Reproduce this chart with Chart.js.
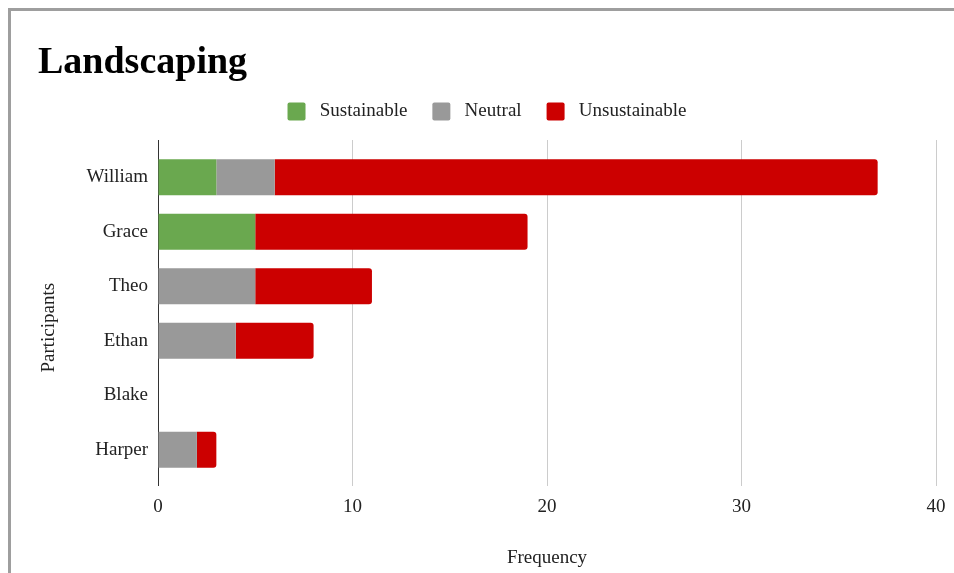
<!DOCTYPE html>
<html>
<head>
<meta charset="utf-8">
<script src="https://cdn.jsdelivr.net/npm/chart.js@4"></script>
<style>
  html, body { margin: 0; padding: 0; background: #fff; overflow: hidden; }
  #frame { position: absolute; left: 8px; top: 8px; width: 2000px; height: 2000px; border: 3px solid #9e9e9e; box-sizing: border-box; }
  #chart { position: absolute; left: 0; top: 0; }
</style>
</head>
<body>
<div id="frame"></div>
<canvas id="chart" width="954" height="573"></canvas>
<script>
const participants = ['William', 'Grace', 'Theo', 'Ethan', 'Blake', 'Harper'];
const sustainable = [3, 5, 0, 0, 0, 0];
const neutral = [3, 0, 5, 4, 0, 2];
const unsustainable = [31, 14, 6, 4, 0, 1];
const xTicks = [0, 10, 20, 30, 40];

const serif = '"Liberation Serif", "Times New Roman", serif';

// gridlines in the original stick out above the plot a bit
const gridTop = {
    id: 'gridTop',
    beforeDatasetsDraw(chart) {
        const { ctx, chartArea, scales } = chart;
        ctx.save();
        ctx.lineWidth = 1;
        xTicks.forEach(v => {
            const x = Math.round(scales.x.getPixelForValue(v) - 0.5) + 0.5;
            ctx.strokeStyle = v === 0 ? '#333333' : '#cccccc';
            ctx.beginPath();
            ctx.moveTo(x, chartArea.top - 10);
            ctx.lineTo(x, chartArea.top);
            ctx.stroke();
        });
        ctx.restore();
    }
};

new Chart(document.getElementById('chart'), {
    type: 'bar',
    data: {
        labels: participants,
        datasets: [
            { label: 'Sustainable', data: sustainable, backgroundColor: '#6aa84f' },
            { label: 'Neutral', data: neutral, backgroundColor: '#999999' },
            { label: 'Unsustainable', data: unsustainable, backgroundColor: '#cc0000',
              borderRadius: 3, borderSkipped: 'start' }
        ]
    },
    options: {
        indexAxis: 'y',
        responsive: false,
        animation: false,
        barPercentage: 0.66,
        categoryPercentage: 1,
        layout: { padding: { left: 38, right: 18, top: 0, bottom: 0 } },
        plugins: {
            title: {
                display: true,
                text: 'Landscaping',
                align: 'start',
                color: '#000',
                font: { family: serif, size: 38, weight: 'bold', lineHeight: 1 },
                padding: { top: 44, bottom: -5 }
            },
            // empty spacer between legend and plot
            subtitle: {
                display: true,
                text: '',
                weight: 500,
                font: { size: 10, lineHeight: 1 },
                padding: { top: 0, bottom: 9 }
            },
            legend: {
                position: 'top',
                labels: {
                    color: '#222',
                    font: { family: serif, size: 19 },
                    boxWidth: 18,
                    boxHeight: 18,
                    useBorderRadius: true,
                    borderRadius: 2,
                    padding: 25,
                    generateLabels(chart) {
                        return Chart.defaults.plugins.legend.labels.generateLabels(chart)
                            .map(l => ({ ...l, text: ' ' + l.text }));
                    }
                }
            },
            tooltip: { enabled: false }
        },
        scales: {
            x: {
                stacked: true,
                min: 0,
                max: 40,
                ticks: { stepSize: 10, color: '#222', padding: 10, font: { family: serif, size: 19 } },
                grid: {
                    color: c => c.tick && c.tick.value === 0 ? '#333333' : '#cccccc',
                    tickLength: 9
                },
                border: { display: false },
                title: {
                    display: true,
                    text: 'Frequency',
                    color: '#222',
                    font: { family: serif, size: 19 },
                    padding: { top: 0, bottom: 4 }
                },
                afterFit(scale) {
                    scale.height = 96;
                    scale.paddingRight = 0;
                }
            },
            y: {
                stacked: true,
                ticks: { color: '#222', padding: 10, font: { family: serif, size: 19 } },
                grid: { display: true, drawOnChartArea: false, drawTicks: false },
                border: { display: true, color: '#333333', width: 1 },
                title: {
                    display: true,
                    text: 'Participants      ',
                    color: '#222',
                    font: { family: serif, size: 19 },
                    padding: { top: 0, bottom: 0 }
                },
                afterFit(scale) { scale.width = 120; }
            }
        }
    },
    plugins: [gridTop]
});
</script>
</body>
</html>
